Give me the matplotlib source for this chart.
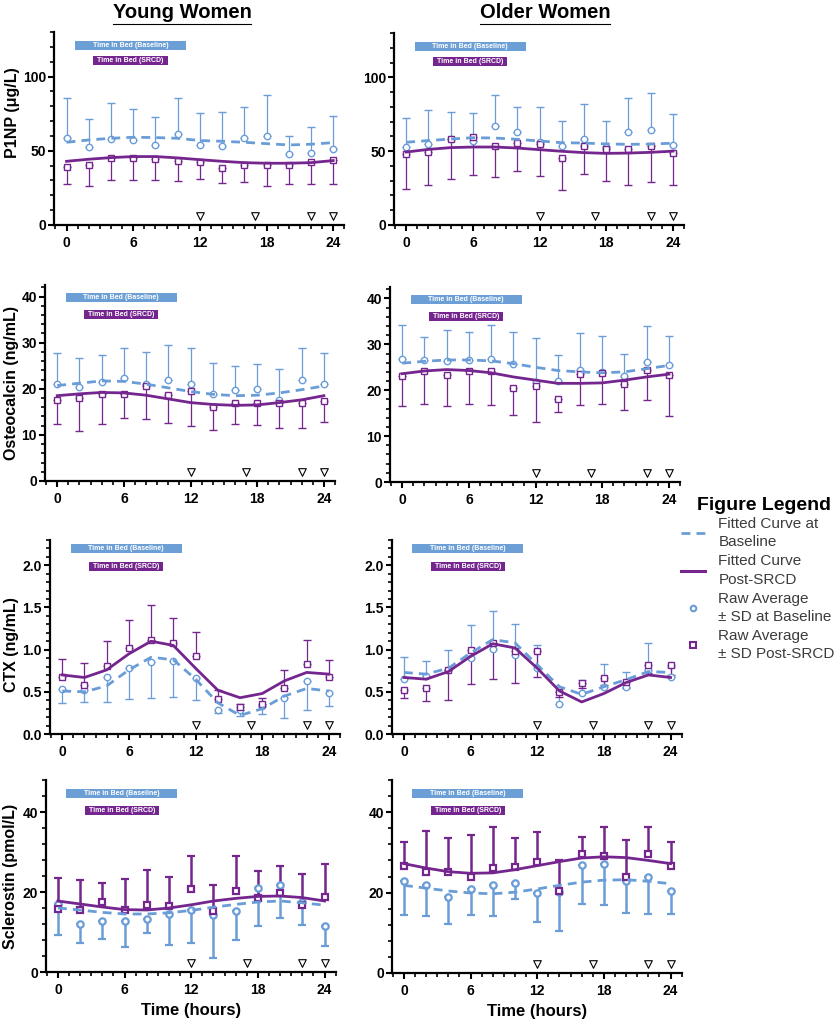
import numpy as np
import matplotlib
matplotlib.use("Agg")
from matplotlib import pyplot as plt
from matplotlib.patches import Rectangle
from matplotlib.lines import Line2D
import matplotlib.transforms as mtransforms
from matplotlib.ticker import MultipleLocator, FormatStrFormatter

plt.rcParams['font.family'] = ['Liberation Sans', 'DejaVu Sans']

# ---------------- data ----------------
hours = [0, 2, 4, 6, 8, 10, 12, 14, 16, 18, 20, 22, 24]
marker_hours = [12, 17, 22, 24]
bed_baseline = (0.75, 10.75)
bed_srcd = (2.4, 9.1)

# P1NP (ug/L)
young_p1np_base = [58.9, 52.4, 58.0, 57.3, 53.7, 61.1, 53.9, 53.0, 58.4, 60.2, 47.9, 48.8, 51.2]
young_p1np_base_sd = [26.9, 18.8, 24.0, 21.1, 19.3, 24.3, 21.4, 23.4, 21.4, 27.2, 12.3, 17.2, 22.1]
young_p1np_srcd = [39.1, 40.4, 44.9, 44.9, 44.3, 43.1, 42.7, 38.4, 40.2, 40.2, 40.2, 42.2, 43.8]
young_p1np_srcd_sd = [11.7, 14.3, 14.6, 14.3, 13.7, 13.4, 11.5, 10.3, 11.4, 13.7, 12.6, 14.6, 16.4]
young_p1np_fit_base = [55.7, 57.3, 58.4, 59.1, 58.9, 58.4, 56.9, 56.4, 55.7, 54.8, 53.9, 54.4, 55.5]
young_p1np_fit_srcd = [42.9, 44.3, 45.4, 46.1, 46.1, 45.2, 44.0, 42.9, 42.0, 41.6, 41.6, 42.0, 43.4]

older_p1np_base = [53.0, 55.0, 58.4, 56.6, 67.0, 62.9, 56.3, 53.4, 58.4, 52.5, 62.8, 64.2, 54.0]
older_p1np_base_sd = [19.4, 23.0, 18.2, 19.1, 21.1, 16.9, 23.5, 16.8, 23.6, 17.6, 23.0, 25.0, 21.0]
older_p1np_srcd = [48.1, 49.4, 58.2, 59.6, 53.7, 55.5, 54.9, 45.4, 53.5, 51.5, 51.4, 53.4, 48.6]
older_p1np_srcd_sd = [23.4, 22.4, 27.0, 25.9, 21.1, 19.1, 21.6, 21.8, 19.1, 22.0, 24.4, 24.4, 21.6]
older_p1np_fit_base = [56.0, 57.2, 58.2, 59.1, 58.9, 58.0, 56.9, 55.7, 55.5, 54.9, 54.6, 54.8, 55.4]
older_p1np_fit_srcd = [49.4, 51.2, 52.4, 52.8, 52.8, 52.1, 51.0, 49.9, 49.0, 48.5, 48.7, 49.2, 50.0]

# Osteocalcin (ng/mL)
young_ocn_base = [21.1, 20.3, 21.4, 22.4, 21.1, 22.0, 21.1, 18.9, 19.8, 20.0, 17.6, 22.0, 21.1]
young_ocn_base_sd = [6.6, 6.3, 5.9, 6.5, 6.8, 7.4, 7.8, 6.6, 5.2, 5.4, 6.7, 6.9, 6.7]
young_ocn_srcd = [17.6, 18.0, 18.9, 18.8, 20.6, 18.6, 19.5, 16.1, 17.0, 17.0, 17.0, 17.0, 17.3]
young_ocn_srcd_sd = [5.3, 7.2, 6.6, 5.2, 7.2, 6.1, 7.5, 5.1, 4.7, 4.9, 5.6, 5.6, 4.6]
young_ocn_fit_base = [20.7, 21.2, 21.7, 21.6, 21.0, 20.2, 19.4, 18.8, 18.5, 18.6, 19.1, 19.8, 20.6]
young_ocn_fit_srcd = [18.5, 18.9, 19.2, 19.1, 18.6, 17.8, 17.0, 16.6, 16.4, 16.5, 17.0, 17.6, 18.5]

older_ocn_base = [26.9, 26.5, 26.3, 26.5, 26.8, 25.8, 21.9, 22.0, 24.5, 23.9, 23.1, 26.2, 25.5]
older_ocn_base_sd = [7.3, 5.0, 6.8, 6.2, 7.5, 6.9, 9.5, 5.7, 8.0, 8.0, 4.9, 7.8, 6.4]
older_ocn_srcd = [23.1, 24.3, 23.3, 24.2, 24.2, 20.4, 20.9, 18.1, 23.6, 23.8, 21.3, 24.4, 23.3]
older_ocn_srcd_sd = [6.5, 7.2, 6.7, 7.3, 7.4, 5.7, 7.9, 2.9, 6.8, 6.8, 5.6, 6.5, 8.9]
older_ocn_fit_base = [25.9, 26.3, 26.6, 26.6, 26.4, 25.8, 25.0, 24.3, 24.0, 23.8, 24.0, 24.7, 25.4]
older_ocn_fit_srcd = [23.6, 24.2, 24.5, 24.3, 23.8, 22.9, 22.2, 21.5, 21.5, 21.6, 22.2, 22.9, 23.5]

# CTX (ng/mL)
young_ctx_base = [0.53, 0.52, 0.67, 0.78, 0.85, 0.87, 0.66, 0.29, 0.28, 0.33, 0.43, 0.63, 0.49]
young_ctx_base_sd = [0.16, 0.14, 0.29, 0.37, 0.42, 0.43, 0.26, 0.04, 0.07, 0.09, 0.24, 0.34, 0.16]
young_ctx_srcd = [0.68, 0.58, 0.81, 1.02, 1.11, 1.08, 0.93, 0.42, 0.32, 0.35, 0.55, 0.83, 0.68]
young_ctx_srcd_sd = [0.21, 0.26, 0.29, 0.33, 0.42, 0.30, 0.28, 0.10, 0.03, 0.08, 0.21, 0.28, 0.20]
young_ctx_fit_base = [0.51, 0.50, 0.57, 0.76, 0.91, 0.88, 0.65, 0.37, 0.22, 0.30, 0.45, 0.54, 0.51]
young_ctx_fit_srcd = [0.70, 0.67, 0.76, 0.95, 1.10, 1.05, 0.78, 0.52, 0.43, 0.48, 0.63, 0.73, 0.71]

older_ctx_base = [0.65, 0.69, 0.76, 0.90, 1.01, 0.94, 0.78, 0.36, 0.49, 0.56, 0.56, 0.76, 0.68]
older_ctx_base_sd = [0.26, 0.17, 0.23, 0.39, 0.45, 0.36, 0.28, 0.14, 0.15, 0.27, 0.17, 0.32, 0.12]
older_ctx_srcd = [0.52, 0.54, 0.76, 1.00, 1.08, 0.98, 0.98, 0.50, 0.60, 0.66, 0.62, 0.82, 0.82]
older_ctx_srcd_sd = [0.09, 0.15, 0.36, 0.41, 0.43, 0.38, 0.31, 0.06, 0.05, 0.08, 0.07, 0.10, 0.12]
older_ctx_fit_base = [0.73, 0.71, 0.78, 0.96, 1.12, 1.08, 0.82, 0.56, 0.47, 0.56, 0.645, 0.74, 0.73]
older_ctx_fit_srcd = [0.67, 0.65, 0.74, 0.92, 1.07, 1.02, 0.78, 0.51, 0.38, 0.48, 0.61, 0.70, 0.67]

# Sclerostin (pmol/L)
young_scl_base = [16.9, 11.9, 12.75, 12.75, 13.3, 14.6, 15.6, 14.3, 15.3, 21.1, 21.7, 17.5, 11.4]
young_scl_base_sd = [7.6, 4.6, 4.55, 6.55, 3.55, 7.8, 8.3, 10.9, 7.4, 9.5, 8.3, 5.8, 5.0]
young_scl_srcd = [15.8, 15.4, 17.4, 15.4, 16.75, 16.4, 20.8, 15.25, 20.2, 18.5, 19.75, 16.8, 18.75]
young_scl_srcd_sd = [7.7, 7.5, 4.85, 7.85, 8.85, 7.3, 8.1, 6.5, 8.7, 6.75, 6.75, 7.6, 8.35]
young_scl_fit_base = [16.0, 15.5, 14.9, 14.5, 14.5, 14.8, 15.4, 16.2, 16.9, 17.5, 17.75, 17.3, 16.7]
young_scl_fit_srcd = [17.75, 17.0, 16.25, 15.6, 15.5, 16.0, 16.8, 17.75, 18.4, 18.9, 19.0, 18.6, 17.75]

older_scl_base = [22.8, 21.8, 19.0, 20.9, 22.0, 22.4, 19.95, 20.1, 26.9, 27.2, 23.0, 24.0, 20.5]
older_scl_base_sd = [8.3, 7.6, 6.7, 6.4, 7.7, 4.1, 7.35, 9.6, 9.7, 10.4, 8.0, 9.4, 5.9]
older_scl_srcd = [26.7, 25.1, 25.1, 23.8, 26.1, 26.3, 27.6, 20.4, 29.6, 29.0, 23.8, 29.7, 26.5]
older_scl_srcd_sd = [6.0, 10.3, 8.4, 10.6, 10.2, 7.2, 7.35, 7.75, 4.2, 7.4, 9.2, 6.7, 6.2]
older_scl_fit_base = [21.8, 21.1, 20.4, 19.9, 19.7, 20.1, 20.9, 21.8, 22.6, 23.1, 23.2, 22.8, 22.2]
older_scl_fit_srcd = [27.2, 26.1, 25.2, 24.8, 24.9, 25.7, 26.7, 27.7, 28.6, 28.9, 28.7, 28.0, 27.2]

ylabels = ["P1NP (\u03bcg/L)", "Osteocalcin (ng/mL)", "CTX (ng/mL)", "Sclerostin (pmol/L)"]
col_titles = ["Young Women", "Older Women"]
legend_labels = ["Fitted Curve at\nBaseline", "Fitted Curve\nPost-SRCD",
                 "Raw Average\n\u00b1 SD at Baseline", "Raw Average\n\u00b1 SD Post-SRCD"]

BLUE = "#6A9DD8"
BLUE_BOX = "#6C9FD6"
PURPLE = "#74268E"
FIG_W, FIG_H = 835, 1024


def px_axes(fig, left, top, bottom, width=290):
    """
    ARGS:
        left, top, bottom, width : pixel geometry of the axes
    RETURN:
        axes
    """
    return fig.add_axes([left / FIG_W, 1 - bottom / FIG_H, width / FIG_W, (bottom - top) / FIG_H])


def draw_panel(ax, base, base_sd, srcd, srcd_sd, fit_base, fit_srcd, base_up, thick, row):
    """
    ARGS:
        base/srcd arrays and plotting options for one panel
    DESCRIPTION:
        Plots raw means +- SD (one-sided), fitted curves and annotations
    """
    base = np.array(base)
    srcd = np.array(srcd)
    zero = np.zeros(len(hours))
    ebw = 1.8 if thick else 0.9
    mew = 1.6 if thick else 1.0
    ms = 4.6
    if base_up:
        berr = [zero, base_sd]
        serr = [srcd_sd, zero]
    else:
        berr = [base_sd, zero]
        serr = [zero, srcd_sd]

    ax.errorbar(hours, base, yerr=berr, fmt='o', color=BLUE, ecolor=BLUE,
                mfc='white', mec=BLUE, ms=ms, mew=mew, elinewidth=ebw,
                capsize=3, capthick=ebw, zorder=3)
    ax.errorbar(hours, srcd, yerr=serr, fmt='s', color=PURPLE, ecolor=PURPLE,
                mfc='white', mec=PURPLE, ms=ms - 0.4, mew=mew, elinewidth=ebw,
                capsize=3, capthick=ebw, zorder=3)
    ax.plot(hours, fit_base, color=BLUE, lw=2.0, ls=(0, (3.2, 2.2)), zorder=4)
    ax.plot(hours, fit_srcd, color=PURPLE, lw=2.0, zorder=4)

    # Wake markers along the x-axis
    trans = mtransforms.blended_transform_factory(ax.transData, ax.transAxes)
    ax.scatter(marker_hours, [0.045] * len(marker_hours), marker='v', s=30,
               facecolor='white', edgecolor='black', linewidth=0.8,
               transform=trans, zorder=5, clip_on=False)

    # Time in bed boxes
    box_y = [(0.905, 0.827), (0.914, 0.824), (0.931, 0.842), (0.905, 0.818)][row]
    hgt = 0.047
    ax.add_patch(Rectangle((bed_baseline[0], box_y[0]), bed_baseline[1] - bed_baseline[0], hgt,
                           transform=trans, facecolor=BLUE_BOX, edgecolor='none', zorder=2))
    ax.text(np.mean(bed_baseline), box_y[0] + hgt / 2, "Time in Bed (Baseline)", transform=trans,
            ha='center', va='center', color='white', fontsize=5, fontweight='bold', zorder=3)
    ax.add_patch(Rectangle((bed_srcd[0], box_y[1]), bed_srcd[1] - bed_srcd[0], hgt,
                           transform=trans, facecolor=PURPLE, edgecolor='none', zorder=2))
    ax.text(np.mean(bed_srcd), box_y[1] + hgt / 2, "Time in Bed (SRCD)", transform=trans,
            ha='center', va='center', color='white', fontsize=5, fontweight='bold', zorder=3)


def style_axes(ax, ylim, major, minor, fmt):
    ax.set_xlim(-1.1, 25.0)
    ax.set_ylim(*ylim)
    ax.xaxis.set_major_locator(MultipleLocator(6))
    ax.xaxis.set_minor_locator(MultipleLocator(1))
    ax.yaxis.set_major_locator(MultipleLocator(major))
    ax.yaxis.set_minor_locator(MultipleLocator(minor))
    ax.yaxis.set_major_formatter(FormatStrFormatter(fmt))
    for side in ['top', 'right']:
        ax.spines[side].set_visible(False)
    for side in ['left', 'bottom']:
        ax.spines[side].set_linewidth(1.6)
    ax.tick_params(which='major', direction='out', length=4.2, width=1.5,
                   labelsize=10, pad=1.5)
    ax.tick_params(which='minor', direction='out', length=2.6, width=1.2)
    ax.tick_params(axis='x', which='major', pad=4)
    for lab in ax.get_xticklabels() + ax.get_yticklabels():
        lab.set_fontweight('bold')


def main():
    fig = plt.figure(figsize=(FIG_W / 100, FIG_H / 100), dpi=100)

    panels = [
        [(young_p1np_base, young_p1np_base_sd, young_p1np_srcd, young_p1np_srcd_sd,
          young_p1np_fit_base, young_p1np_fit_srcd),
         (older_p1np_base, older_p1np_base_sd, older_p1np_srcd, older_p1np_srcd_sd,
          older_p1np_fit_base, older_p1np_fit_srcd)],
        [(young_ocn_base, young_ocn_base_sd, young_ocn_srcd, young_ocn_srcd_sd,
          young_ocn_fit_base, young_ocn_fit_srcd),
         (older_ocn_base, older_ocn_base_sd, older_ocn_srcd, older_ocn_srcd_sd,
          older_ocn_fit_base, older_ocn_fit_srcd)],
        [(young_ctx_base, young_ctx_base_sd, young_ctx_srcd, young_ctx_srcd_sd,
          young_ctx_fit_base, young_ctx_fit_srcd),
         (older_ctx_base, older_ctx_base_sd, older_ctx_srcd, older_ctx_srcd_sd,
          older_ctx_fit_base, older_ctx_fit_srcd)],
        [(young_scl_base, young_scl_base_sd, young_scl_srcd, young_scl_srcd_sd,
          young_scl_fit_base, young_scl_fit_srcd),
         (older_scl_base, older_scl_base_sd, older_scl_srcd, older_scl_srcd_sd,
          older_scl_fit_base, older_scl_fit_srcd)],
    ]
    # pixel geometry: (left spine x, top, bottom) per row, for left/right column
    geom_left = [(54.3, 32, 225), (45, 285, 481), (50, 540, 734), (45.7, 780, 972)]
    geom_right = [(394, 33, 225), (390, 287, 482), (391.7, 540, 734), (391.7, 780, 973)]
    ylims = [(0, 130), (0, 42.5), (0, 2.3), (0, 48)]
    majors = [50, 10, 0.5, 20]
    minors = [10, 2, 0.1, 4]
    fmts = ['%d', '%d', '%.1f', '%d']
    # which direction the baseline SD bars point (young, older)
    base_up = [(True, True), (True, True), (False, True), (False, False)]
    # y-label anchor (right edge of the rotated text), axes fraction
    label_pos = [(-0.119, 0.58), (-0.091, 0.5), (-0.106, 0.46), (-0.094, 0.5)]

    for row in range(4):
        for col in range(2):
            g = geom_left[row] if col == 0 else geom_right[row]
            ax = px_axes(fig, g[0], g[1], g[2])
            draw_panel(ax, *panels[row][col], base_up=base_up[row][col],
                       thick=(row == 3), row=row)
            style_axes(ax, ylims[row], majors[row], minors[row], fmts[row])
            if col == 0:
                ax.set_ylabel(ylabels[row], fontsize=11.5, fontweight='bold')
                ax.yaxis.set_label_coords(*label_pos[row])
            if row == 3:
                ax.set_xlabel("Time (hours)", fontsize=12, fontweight='bold', labelpad=4)

    # Column titles, underlined
    renderer = fig.canvas.get_renderer()
    for cx, title in zip([182, 545], col_titles):
        t = fig.text(cx / FIG_W, 1 - 13 / FIG_H, title, ha='center', va='center',
                     fontsize=14.5, fontweight='bold')
        bb = t.get_window_extent(renderer=renderer)
        yline = (bb.y0 - 1.5) / FIG_H
        fig.add_artist(Line2D([bb.x0 / FIG_W, bb.x1 / FIG_W], [yline, yline],
                              color='black', lw=0.8, transform=fig.transFigure))

    # Legend
    fig.text(697 / FIG_W, 1 - 505 / FIG_H, "Figure Legend", ha='left', va='center',
             fontsize=14, fontweight='bold')
    handles = [Line2D([], [], color=BLUE, lw=2.0, ls=(0, (3.2, 2.2))),
               Line2D([], [], color=PURPLE, lw=2.2),
               Line2D([], [], ls='none', marker='o', mfc='white', mec=BLUE, ms=4, mew=1.5),
               Line2D([], [], ls='none', marker='s', mfc='white', mec=PURPLE, ms=4, mew=1.5)]
    leg = fig.legend(handles, legend_labels, loc='upper left',
                     bbox_to_anchor=(681 / FIG_W, 1 - 517 / FIG_H), frameon=False,
                     fontsize=11, handlelength=1.6, handletextpad=0.85, labelspacing=0.32,
                     borderpad=0, borderaxespad=0, labelcolor='#3c3c3c')
    for t in leg.get_texts():
        t.set_linespacing(1.4)

    fig.savefig("out.png", dpi=100)


if __name__ == "__main__":
    main()
